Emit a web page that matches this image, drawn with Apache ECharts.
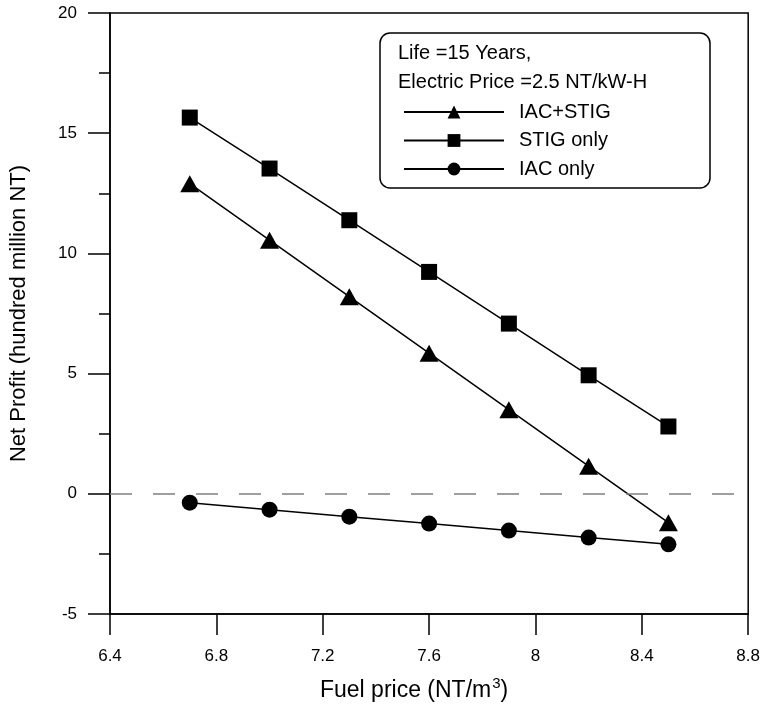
<!DOCTYPE html>
<html>
<head>
<meta charset="utf-8">
<script src="https://cdn.jsdelivr.net/npm/echarts@6/dist/echarts.min.js"></script>
<style>
  html, body { margin: 0; padding: 0; background: #fff; }
  #myChart { width: 763px; height: 707px; }
</style>
</head>
<body>
<div id="myChart"></div>
<script>
    // fuel price (NT/m3)
    var fuelPrice = [6.7, 7.0, 7.3, 7.6, 7.9, 8.2, 8.5];
    // net profit (hundred million NT)
    var iacStig = [12.9, 10.55, 8.2, 5.85, 3.5, 1.15, -1.2];
    var stigOnly = [15.65, 13.53, 11.38, 9.23, 7.08, 4.93, 2.8];
    var iacOnly = [-0.37, -0.66, -0.95, -1.24, -1.53, -1.82, -2.1];
    var noteLines = ['Life =15 Years,', 'Electric Price =2.5 NT/kW-H'];

    function pairs(ys) {
        return fuelPrice.map(function (x, i) { return [x, ys[i]]; });
    }

    var font = '"Liberation Sans", Arial, sans-serif';
    var myChart = echarts.init(document.getElementById('myChart'));

    var lineSeries = function (name, data, symbol, size) {
        return {
            name: name,
            type: 'line',
            data: pairs(data),
            symbol: symbol,
            symbolSize: size,
            color: '#000',
            lineStyle: { color: '#000', width: 1.5 },
            itemStyle: { color: '#000' },
            animation: false,
            z: 3
        };
    };

    var s3 = lineSeries('IAC only', iacOnly, 'circle', 16);
    // 虚线 y=0
    s3.markLine = {
        silent: true,
        symbol: 'none',
        label: { show: false },
        lineStyle: { color: '#808080', width: 1.5, type: [22, 21] },
        data: [{ yAxis: 0 }],
        animation: false
    };

    myChart.setOption({
        backgroundColor: '#fff',
        textStyle: { fontFamily: font },
        grid: {
            left: 110, right: 13, top: 13, bottom: 91,
            show: true, borderColor: '#000', borderWidth: 1.5
        },
        xAxis: {
            type: 'value',
            min: 6.4, max: 8.8, interval: 0.4,
            name: 'Fuel price (NT/m{sup|3})',
            nameLocation: 'middle',
            nameGap: 62,
            nameTextStyle: {
                color: '#000', fontSize: 23, fontFamily: font, padding: [0, 30, 0, 0],
                rich: { sup: { fontSize: 15, verticalAlign: 'top', padding: [0, 0, 14, 1], fontFamily: font } }
            },
            axisLine: { onZero: false, lineStyle: { color: '#000', width: 1.5 } },
            axisTick: { show: true, length: 21, lineStyle: { color: '#000', width: 1.5 } },
            axisLabel: { color: '#000', fontSize: 17, margin: 34 },
            splitLine: { show: false }
        },
        yAxis: {
            type: 'value',
            min: -5, max: 20, interval: 5,
            name: 'Net Profit (hundred million NT)',
            nameLocation: 'middle',
            nameGap: 80,
            nameTextStyle: { color: '#000', fontSize: 22, fontFamily: font },
            axisLine: { lineStyle: { color: '#000', width: 1.5 } },
            axisTick: { show: true, length: 22, lineStyle: { color: '#000', width: 1.5 } },
            minorTick: { show: true, splitNumber: 2, length: 11, lineStyle: { color: '#000', width: 1.5 } },
            axisLabel: { color: '#000', fontSize: 17, margin: 33 },
            splitLine: { show: false },
            minorSplitLine: { show: false }
        },
        legend: {
            left: 398, top: 97,
            orient: 'vertical',
            itemWidth: 100, itemHeight: 16, itemGap: 8.5,
            data: ['IAC+STIG', 'STIG only', 'IAC only'],
            textStyle: { color: '#000', fontSize: 20, fontFamily: font, padding: [0, 0, 0, 10] }
        },
        graphic: [
            {
                type: 'rect',
                shape: { x: 380, y: 33, width: 330, height: 155, r: 10 },
                style: { fill: '#fff', stroke: '#000', lineWidth: 1.5 },
                z: 1
            },
            {
                type: 'text', x: 398, y: 53, z: 2,
                style: { text: noteLines[0], font: '20px ' + font, fill: '#000', verticalAlign: 'middle' }
            },
            {
                type: 'text', x: 398, y: 82, z: 2,
                style: { text: noteLines[1], font: '20px ' + font, fill: '#000', verticalAlign: 'middle' }
            }
        ],
        series: [
            lineSeries('IAC+STIG', iacStig, 'triangle', [19, 17]),
            lineSeries('STIG only', stigOnly, 'rect', 16),
            s3
        ]
    });
</script>
</body>
</html>
